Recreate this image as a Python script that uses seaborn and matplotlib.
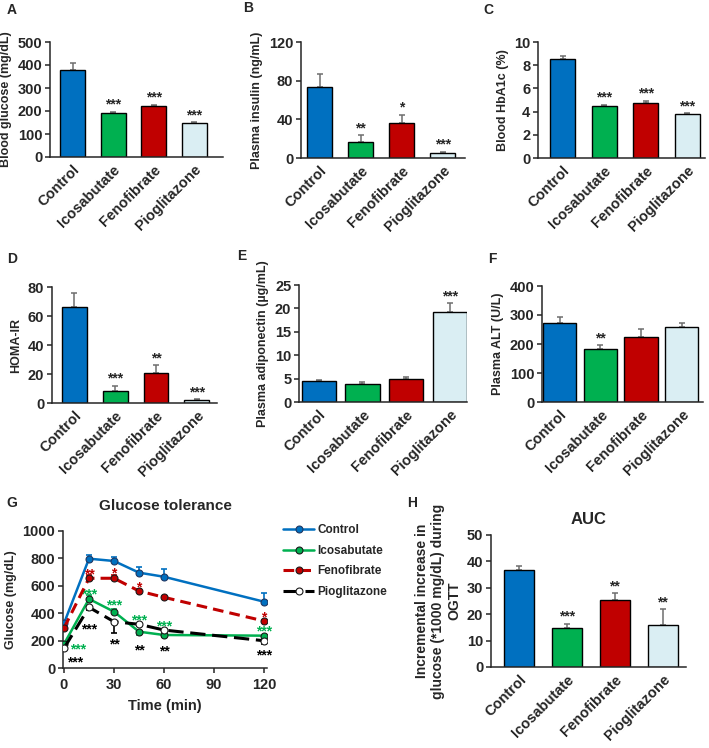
import matplotlib
matplotlib.use("Agg")
import matplotlib.pyplot as plt
import numpy as np
import pandas as pd
import seaborn as sns

# groups and colours
groups = ["Control", "Icosabutate", "Fenofibrate", "Pioglitazone"]
bar_colors = ["#0070C0", "#00B050", "#C00000", "#DAEEF3"]
line_colors = ["#0070C0", "#00B050", "#C00000", "#000000"]

# A-F, H: bar panels (mean, upper error, significance)
glucose_mean = [380, 190, 220, 148]
glucose_err = [27, 7, 8, 3]
glucose_stars = ["", "***", "***", "***"]

insulin_mean = [73, 17, 36, 5]
insulin_err = [14, 7, 9, 1.5]
insulin_stars = ["", "**", "*", "***"]

hba1c_mean = [8.5, 4.5, 4.75, 3.8]
hba1c_err = [0.3, 0.1, 0.2, 0.1]
hba1c_stars = ["", "***", "***", "***"]

homa_mean = [66, 8.5, 20.5, 2]
homa_err = [10, 3.5, 5.5, 0.5]
homa_stars = ["", "***", "**", "***"]

adipo_mean = [4.4, 3.9, 5.0, 19.3]
adipo_err = [0.4, 0.3, 0.4, 1.9]
adipo_stars = ["", "", "", "***"]

alt_mean = [272, 182, 225, 258]
alt_err = [20, 15, 27, 15]
alt_stars = ["", "**", "", ""]

auc_mean = [36.7, 14.7, 25.5, 15.8]
auc_err = [1.7, 1.7, 2.5, 6.0]
auc_stars = ["", "***", "**", "**"]

# G: oral glucose tolerance test
ogtt_time = [0, 15, 30, 45, 60, 120]
ogtt_control = [326, 798, 781, 696, 666, 484]
ogtt_control_err = [10, 28, 30, 43, 56, 61]
ogtt_icosa = [175, 504, 411, 265, 241, 236]
ogtt_icosa_err = [10, 28, 22, 25, 18, 15]
ogtt_feno = [292, 655, 655, 562, 516, 343]
ogtt_feno_err = [10, 25, 22, 12, 8, 10]
ogtt_pio = [144, 443, 338, 319, 277, 199]
ogtt_pio_err = [10, 20, 85, 15, 40, 25]
ogtt_icosa_stars = ["***", "***", "***", "***", "***", "***"]
ogtt_feno_stars = ["", "**", "*", "*", "", "*"]
ogtt_pio_stars = ["***", "***", "**", "**", "**", "***"]

W, H = 709, 748
fig = plt.figure(figsize=(W / 100, H / 100), dpi=100)

sns.set_style("ticks")
plt.rcParams["font.family"] = ["Liberation Sans", "DejaVu Sans"]
plt.rcParams["font.weight"] = "bold"
plt.rcParams["axes.linewidth"] = 1.1

TICK_SIZE = 10.5


def px_rect(x0, y0, x1, y1):
    return [x0 / W, 1 - y1 / H, (x1 - x0) / W, (y1 - y0) / H]


def style_axes(ax, yticks):
    sns.despine(ax=ax)
    ax.set_yticks(yticks)
    ax.tick_params(axis="y", length=3.5, width=1.1, labelsize=TICK_SIZE, pad=2)
    for lbl in ax.get_yticklabels():
        lbl.set_fontweight("bold")


def bar_panel(rect, xlim, width, ylim, yticks, ylabel, means, errs, stars,
              ylabel_size=9):
    ax = fig.add_axes(px_rect(*rect))
    df = pd.DataFrame({"group": groups, "value": means})
    sns.barplot(data=df, x="group", y="value", hue="group", palette=bar_colors,
                saturation=1, width=width, edgecolor="black", linewidth=1.0,
                legend=False, errorbar=None, ax=ax, zorder=2)
    xs = np.arange(len(groups))
    ax.errorbar(xs, means, yerr=[np.zeros(len(errs)), errs], fmt="none",
                ecolor="#6E6E6E", elinewidth=1.1, capsize=2.5, capthick=1.1,
                zorder=1)
    for x, m, e, s in zip(xs, means, errs, stars):
        if s:
            ax.annotate(s, xy=(x, m + e), xytext=(0, 2), textcoords="offset points",
                        ha="center", va="baseline", fontsize=10, fontweight="bold")
    ax.set_xlim(*xlim)
    ax.set_ylim(*ylim)
    style_axes(ax, yticks)
    ax.tick_params(axis="x", length=0, pad=4)
    ax.set_xticks(xs)
    ax.set_xticklabels(groups, rotation=45, ha="right", rotation_mode="anchor",
                       fontsize=TICK_SIZE, fontweight="bold")
    ax.set_xlabel("")
    ax.set_ylabel(ylabel, fontsize=ylabel_size, fontweight="bold", labelpad=4)
    return ax


bar_panel((50, 42, 223, 157), (-0.555, 3.71), 0.62, (0, 500), range(0, 501, 100),
          "Blood glucose (mg/dL)", glucose_mean, glucose_err, glucose_stars)
bar_panel((301, 42, 465, 158), (-0.46, 3.54), 0.61, (0, 120), range(0, 121, 40),
          "Plasma insulin (ng/mL)", insulin_mean, insulin_err, insulin_stars)
bar_panel((538, 42, 705, 158), (-0.59, 3.43), 0.60, (0, 10), range(0, 11, 2),
          "Blood HbA1c (%)", hba1c_mean, hba1c_err, hba1c_stars)
bar_panel((52, 287, 217, 403), (-0.54, 3.49), 0.61, (0, 80), range(0, 81, 20),
          "HOMA-IR", homa_mean, homa_err, homa_stars)
bar_panel((299, 285, 467, 402), (-0.45, 3.39), 0.78, (0, 25), range(0, 26, 5),
          "Plasma adiponectin (\u00b5g/mL)", adipo_mean, adipo_err, adipo_stars)
bar_panel((542, 286, 703, 402), (-0.44, 3.53), 0.82, (0, 400), range(0, 401, 100),
          "Plasma ALT (U/L)", alt_mean, alt_err, alt_stars)
axh = bar_panel((491, 535, 686, 667), (-0.59, 3.49), 0.63, (0, 50), range(0, 51, 10),
                "Incremental increase in\nglucose (*1000 mg/dL) during\nOGTT",
                auc_mean, auc_err, auc_stars, ylabel_size=10)
axh.set_title("AUC", fontsize=12, fontweight="bold", pad=8)

# G: glucose tolerance curves
axg = fig.add_axes(px_rect(63, 531, 267, 668))
series = [
    ("Control", ogtt_control, ogtt_control_err, 1, None, "-"),
    ("Icosabutate", ogtt_icosa, ogtt_icosa_err, 1, ogtt_icosa_stars, "-"),
    ("Fenofibrate", ogtt_feno, ogtt_feno_err, 1, ogtt_feno_stars, (0, (3.5, 2))),
    ("Pioglitazone", ogtt_pio, ogtt_pio_err, -1, ogtt_pio_stars, (0, (5, 2.2))),
]
icosa_err_dir = [1, 1, 1, -1, -1, -1]
# star offsets (points) relative to each point
star_offsets = {
    "Icosabutate": [(10, -7), (0, 0), (0, 1.5), (0, 5), (0, 3.5), (0, 0)],
    "Fenofibrate": [(0, 0), (0, 0), (0, 0.5), (0, -0.5), (0, 0), (0, 0)],
    "Pioglitazone": [(8, -13), (0, -19), (0, -19.5), (0, -21.5), (0, -18), (0, -13.5)],
}
for (name, vals, errs, direction, stars, ls), col in zip(series, line_colors):
    df = pd.DataFrame({"time": ogtt_time, "glucose": vals})
    face = "white" if name == "Pioglitazone" else col
    lw = 2.2 if ls != "-" else 1.8
    sns.lineplot(data=df, x="time", y="glucose", color=col, linestyle=ls,
                 linewidth=lw, marker="o", markersize=5, markerfacecolor=face,
                 markeredgecolor="#1a1a1a" if name != "Control" else "#1F3864",
                 markeredgewidth=0.8, label=name, ax=axg, zorder=3)
    if name == "Icosabutate":
        dirs = icosa_err_dir
    else:
        dirs = [direction] * len(vals)
    lo = [e if d < 0 else 0 for e, d in zip(errs, dirs)]
    hi = [e if d > 0 else 0 for e, d in zip(errs, dirs)]
    axg.errorbar(ogtt_time, vals, yerr=[lo, hi], fmt="none", ecolor=col,
                 elinewidth=1.2, capsize=2.5, capthick=1.2, zorder=2)
    if stars:
        for t, v, s, (dx, dy) in zip(ogtt_time, vals, stars, star_offsets[name]):
            if s:
                axg.annotate(s, xy=(t, v), xytext=(dx, dy), textcoords="offset points",
                             ha="center", va="baseline", fontsize=10,
                             fontweight="bold", color=col)

axg.set_xlim(-0.6, 121.8)
axg.set_ylim(0, 1000)
style_axes(axg, range(0, 1001, 200))
axg.set_xticks([0, 30, 60, 90, 120])
axg.tick_params(axis="x", length=3.5, width=1.1, labelsize=TICK_SIZE, pad=4)
for lbl in axg.get_xticklabels():
    lbl.set_fontweight("bold")
axg.set_xlabel("Time (min)", fontsize=10.5, fontweight="bold", labelpad=5)
axg.set_ylabel("Glucose (mg/dL)", fontsize=9, fontweight="bold", labelpad=4)
axg.set_title("Glucose tolerance", fontsize=11, fontweight="bold", pad=15)
axg.legend(loc="upper left", bbox_to_anchor=(1.08, 1.05), frameon=False,
           prop={"weight": "bold", "size": 8.5}, handlelength=2.6,
           borderaxespad=0, borderpad=0, labelspacing=0.72, handletextpad=0.3)

# panel letters
letters = ["A", "B", "C", "D", "E", "F", "G", "H"]
letter_pos = [(7, 10), (243, 8), (483, 10), (7, 259), (237, 256), (488, 259),
              (6, 503), (407, 503)]
for s, (x, y) in zip(letters, letter_pos):
    fig.text(x / W, 1 - y / H, s, fontsize=10, fontweight="bold",
             ha="left", va="center")

fig.savefig("out.png", dpi=100)
